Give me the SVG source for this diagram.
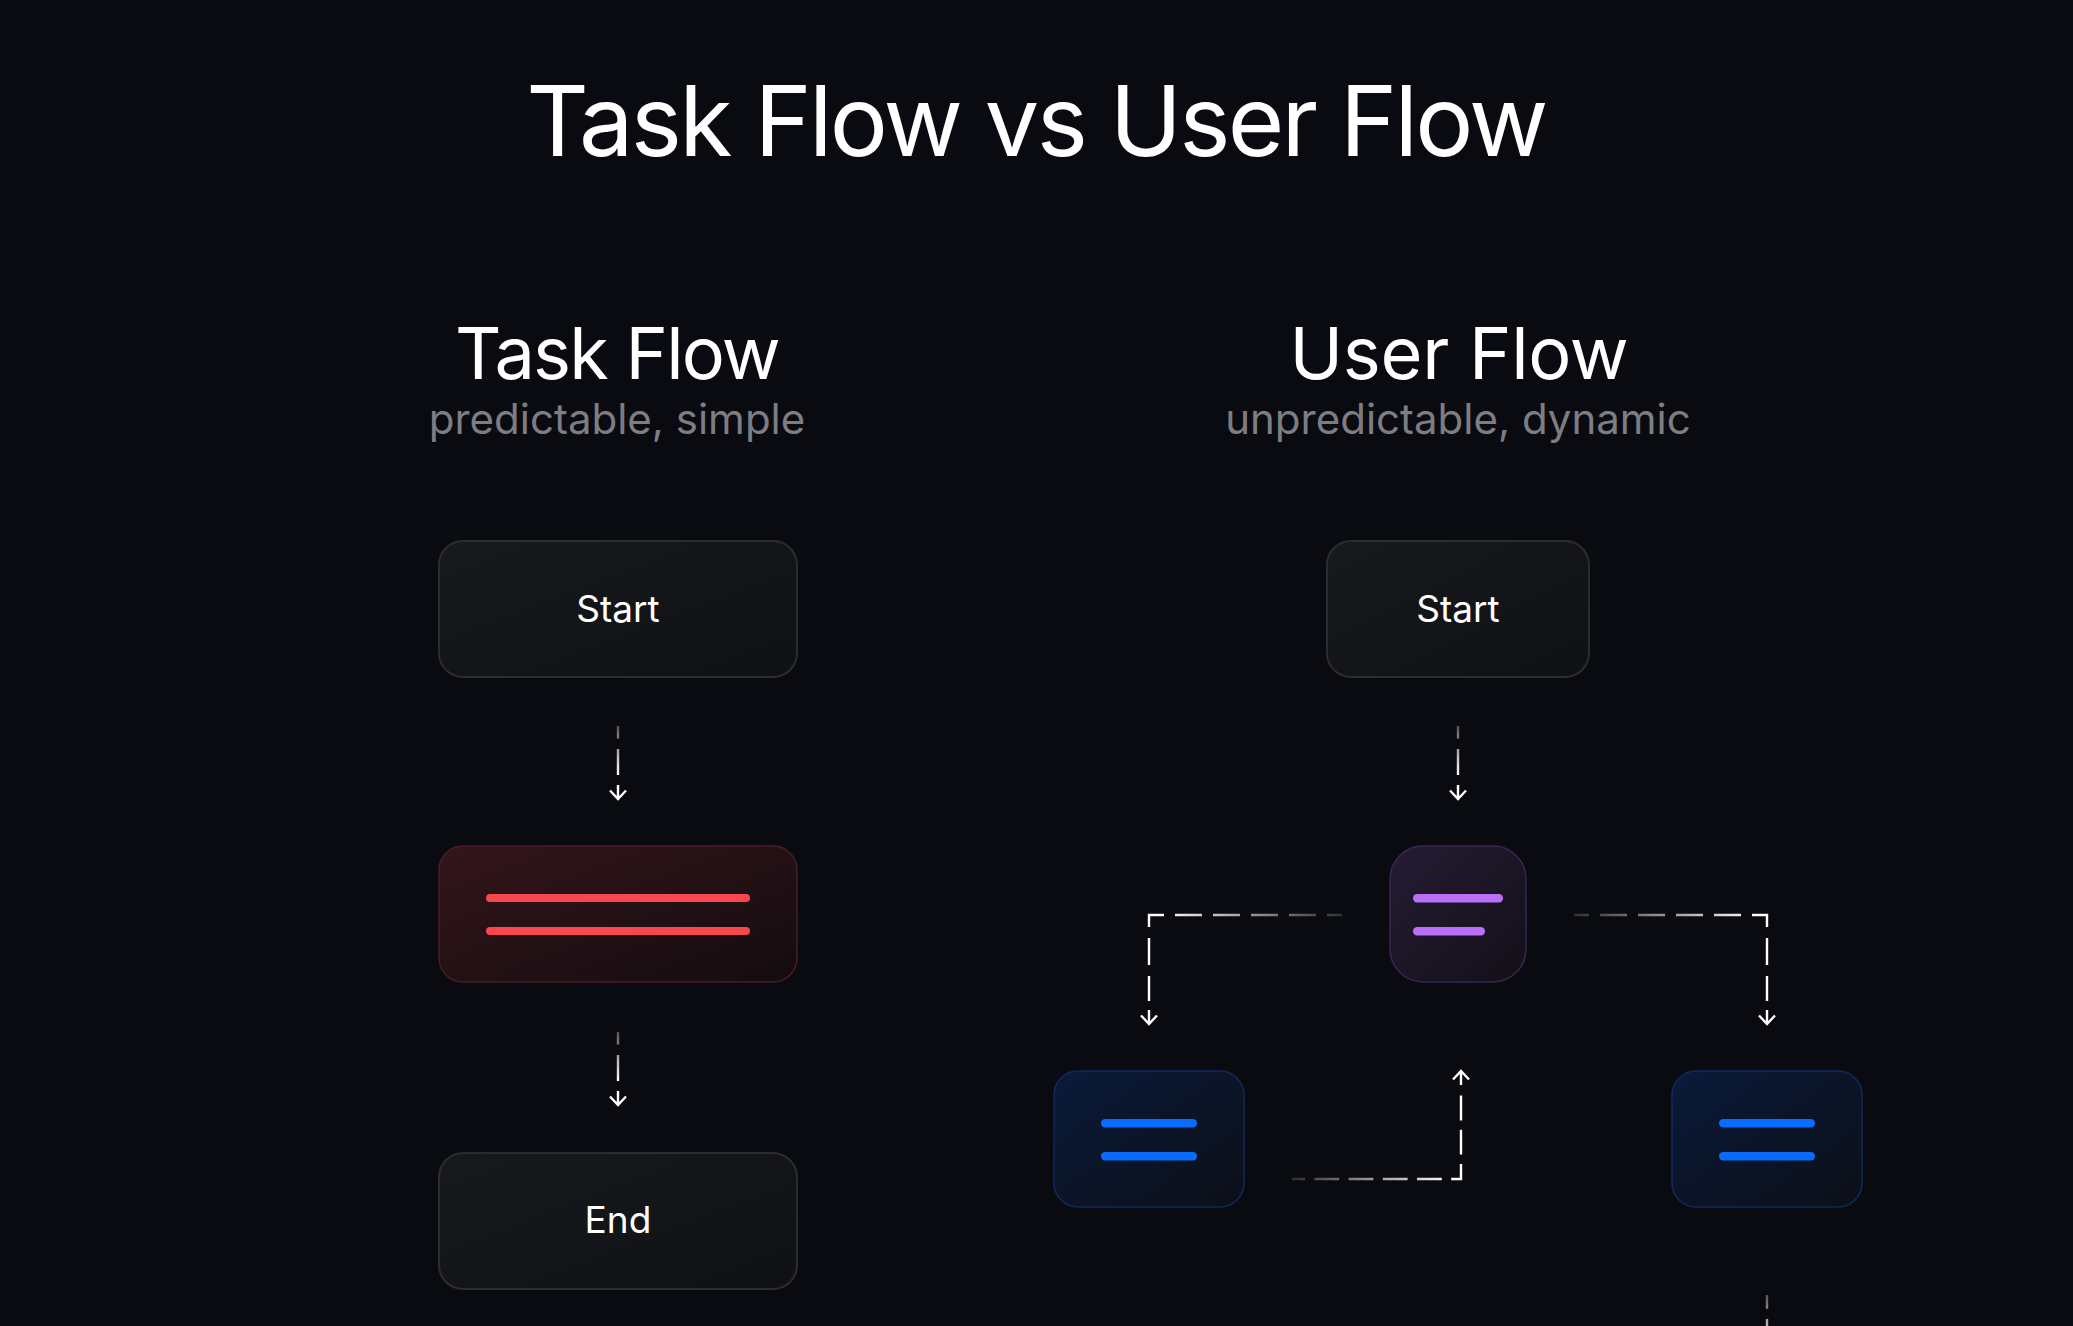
<svg xmlns="http://www.w3.org/2000/svg" xmlns:xlink="http://www.w3.org/1999/xlink" width="2073" height="1326" viewBox="0 0 2073 1326">
  <style>
    text { font-family: Inter, "Noto Sans", "Liberation Sans", sans-serif; text-anchor: middle; }
    .title { font-size: 97px; fill: #ffffff; font-weight: 400; letter-spacing: -2.7px; }
    .head { font-size: 72px; fill: #ffffff; font-weight: 400; }
    .sub { font-size: 42px; fill: #7d7d83; font-weight: 400; }
    .label { font-size: 37px; fill: #ffffff; font-weight: 400; }
    .dark { fill: url(#gDark); stroke: #2b2c31; stroke-width: 2; }
    .red { fill: url(#gRed); stroke: #4a1d24; stroke-width: 1.5; }
    .purple { fill: url(#gPurple); stroke: #3a2552; stroke-width: 1.5; }
    .blue { fill: url(#gBlue); stroke: #0f2a5c; stroke-width: 1.5; }
    .conn { fill: none; stroke-width: 2.4; }
    .head-arrow { fill: none; stroke: #ffffff; stroke-width: 2.4; stroke-linecap: butt; stroke-linejoin: miter; }
  </style>
  <defs>
    <linearGradient id="gDark" x1="0" y1="0" x2="1" y2="1">
      <stop offset="0" stop-color="#18191d"/>
      <stop offset="1" stop-color="#101115"/>
    </linearGradient>
    <linearGradient id="gRed" x1="0" y1="0" x2="1" y2="1">
      <stop offset="0" stop-color="#33151a"/>
      <stop offset="1" stop-color="#140c10"/>
    </linearGradient>
    <linearGradient id="gPurple" x1="0" y1="0" x2="1" y2="1">
      <stop offset="0" stop-color="#251b33"/>
      <stop offset="1" stop-color="#121018"/>
    </linearGradient>
    <linearGradient id="gBlue" x1="0" y1="0" x2="1" y2="1">
      <stop offset="0" stop-color="#0a1a3a"/>
      <stop offset="1" stop-color="#0c0f17"/>
    </linearGradient>
    <linearGradient id="cL1" gradientUnits="userSpaceOnUse" x1="0" y1="726" x2="0" y2="775">
      <stop offset="0" stop-color="#ffffff" stop-opacity="0.3"/>
      <stop offset="1" stop-color="#ffffff" stop-opacity="1"/>
    </linearGradient>
    <linearGradient id="cL2" gradientUnits="userSpaceOnUse" x1="0" y1="1032" x2="0" y2="1081">
      <stop offset="0" stop-color="#ffffff" stop-opacity="0.3"/>
      <stop offset="1" stop-color="#ffffff" stop-opacity="1"/>
    </linearGradient>
    <linearGradient id="cBL" gradientUnits="userSpaceOnUse" x1="1342" y1="0" x2="1160" y2="0">
      <stop offset="0" stop-color="#ffffff" stop-opacity="0.15"/>
      <stop offset="1" stop-color="#ffffff" stop-opacity="1"/>
    </linearGradient>
    <linearGradient id="cBR" gradientUnits="userSpaceOnUse" x1="1574" y1="0" x2="1756" y2="0">
      <stop offset="0" stop-color="#ffffff" stop-opacity="0.15"/>
      <stop offset="1" stop-color="#ffffff" stop-opacity="1"/>
    </linearGradient>
    <linearGradient id="cRet" gradientUnits="userSpaceOnUse" x1="1292" y1="0" x2="1450" y2="0">
      <stop offset="0" stop-color="#ffffff" stop-opacity="0.15"/>
      <stop offset="1" stop-color="#ffffff" stop-opacity="1"/>
    </linearGradient>
    <linearGradient id="cBot" gradientUnits="userSpaceOnUse" x1="0" y1="1290" x2="0" y2="1340">
      <stop offset="0" stop-color="#ffffff" stop-opacity="0.25"/>
      <stop offset="1" stop-color="#ffffff" stop-opacity="0.9"/>
    </linearGradient>
    <path id="arrowDown" class="head-arrow" d="M0,-14 V0 M-8,-8.5 L0,0 L8,-8.5"/>
  </defs>

  <rect x="0" y="0" width="2073" height="1326" fill="#0a0b10"/>

  <g id="titles">
    <text class="title" x="1036" y="156">Task Flow vs User Flow</text>
    <text class="head" x="617" y="379" letter-spacing="-1.8">Task Flow</text>
    <text class="sub" x="617" y="434">predictable, simple</text>
    <text class="head" x="1459" y="379" letter-spacing="-0.3">User Flow</text>
    <text class="sub" x="1458" y="434">unpredictable, dynamic</text>
  </g>

  <g id="connectors">
    <path class="conn" stroke="url(#cL1)" stroke-dasharray="26.5 10.5" stroke-dashoffset="14" d="M618,726 V775"/>
    <use href="#arrowDown" xlink:href="#arrowDown" transform="translate(618,799)"/>
    <path class="conn" stroke="url(#cL2)" stroke-dasharray="26.5 10.5" stroke-dashoffset="14" d="M618,1032 V1081"/>
    <use href="#arrowDown" xlink:href="#arrowDown" transform="translate(618,1105)"/>
    <path class="conn" stroke="url(#cL1)" stroke-dasharray="26.5 10.5" stroke-dashoffset="14" d="M1458,726 V775"/>
    <use href="#arrowDown" xlink:href="#arrowDown" transform="translate(1458,799)"/>

    <path class="conn" stroke="url(#cBL)" stroke-dasharray="27 11" stroke-dashoffset="12" d="M1342,915 H1149 V1001"/>
    <use href="#arrowDown" xlink:href="#arrowDown" transform="translate(1149,1024)"/>
    <path class="conn" stroke="url(#cBR)" stroke-dasharray="27 11" stroke-dashoffset="12" d="M1574,915 H1767 V1001"/>
    <use href="#arrowDown" xlink:href="#arrowDown" transform="translate(1767,1024)"/>

    <path class="conn" stroke="url(#cRet)" stroke-dasharray="24.8 9.4" stroke-dashoffset="11.8" d="M1292,1179 H1461 V1094"/>
    <use href="#arrowDown" xlink:href="#arrowDown" transform="translate(1461,1071) rotate(180)"/>

    <path class="conn" stroke="url(#cBot)" stroke-dasharray="13.7 10.3 30 10" d="M1767,1295 V1330"/>
  </g>

  <g id="task-start">
    <rect class="dark" x="439" y="541" width="358" height="136" rx="24"/>
    <text class="label" x="618" y="622">Start</text>
  </g>
  <g id="task-step">
    <rect class="red" x="439" y="846" width="358" height="136" rx="24"/>
    <rect x="486" y="894" width="264" height="8" rx="4" fill="#f8474f"/>
    <rect x="486" y="927" width="264" height="8" rx="4" fill="#f8474f"/>
  </g>
  <g id="task-end">
    <rect class="dark" x="439" y="1153" width="358" height="136" rx="24"/>
    <text class="label" x="618" y="1233">End</text>
  </g>

  <g id="user-start">
    <rect class="dark" x="1327" y="541" width="262" height="136" rx="24"/>
    <text class="label" x="1458" y="622">Start</text>
  </g>
  <g id="user-decision">
    <rect class="purple" x="1390" y="846" width="136" height="136" rx="33"/>
    <rect x="1413" y="894" width="90" height="8.5" rx="4.2" fill="#b96ff7"/>
    <rect x="1413" y="927" width="72" height="8.5" rx="4.2" fill="#b96ff7"/>
  </g>
  <g id="user-left">
    <rect class="blue" x="1054" y="1071" width="190" height="136" rx="24"/>
    <rect x="1101" y="1119" width="96" height="8.5" rx="4.2" fill="#0a6cff"/>
    <rect x="1101" y="1152" width="96" height="8.5" rx="4.2" fill="#0a6cff"/>
  </g>
  <g id="user-right">
    <rect class="blue" x="1672" y="1071" width="190" height="136" rx="24"/>
    <rect x="1719" y="1119" width="96" height="8.5" rx="4.2" fill="#0a6cff"/>
    <rect x="1719" y="1152" width="96" height="8.5" rx="4.2" fill="#0a6cff"/>
  </g>
</svg>
